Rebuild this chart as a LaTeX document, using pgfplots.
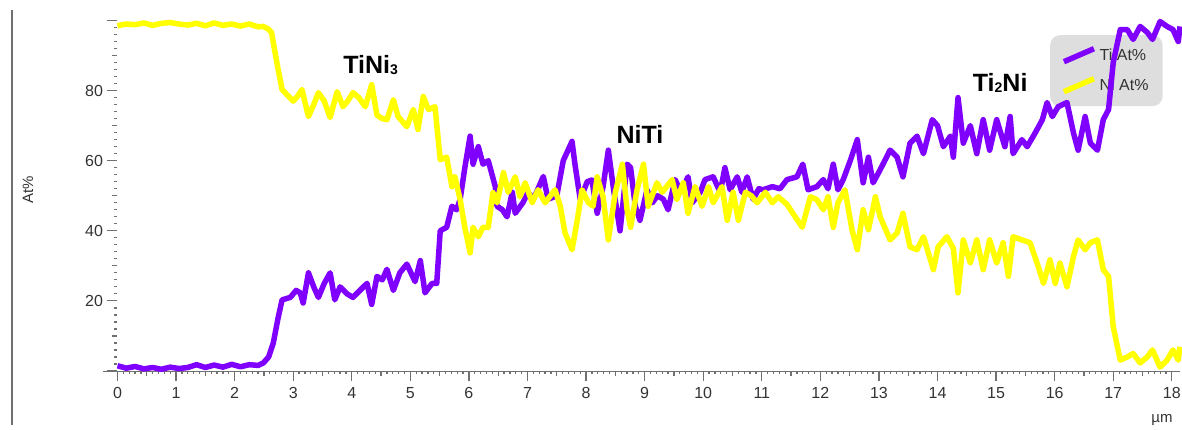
\documentclass[border=0pt]{standalone}
\usepackage{fontspec}
\setmainfont{Liberation Sans}
\usepackage{pgfplots}
\pgfplotsset{compat=1.18}
\definecolor{ticol}{HTML}{7F00FF}
\definecolor{nicol}{HTML}{FFFF00}
\definecolor{tickgray}{HTML}{707070}
\definecolor{txtgray}{HTML}{333333}
\definecolor{leggray}{HTML}{DEDEDE}
\pgfplotstableread{
x y
0 1.5
0.15 0.8
0.3 1.3
0.45 0.6
0.6 1.0
0.75 0.5
0.9 1.1
1.05 0.7
1.2 1.0
1.35 1.8
1.5 1.0
1.65 1.7
1.8 1.1
1.95 1.9
2.1 1.2
2.25 1.8
2.4 1.6
2.49 2.3
2.58 4
2.66 8
2.74 15
2.81 20.3
2.95 21
3.05 23
3.12 22.3
3.17 19.4
3.26 28
3.35 24
3.43 21
3.53 25
3.63 28
3.71 20.3
3.80 24
3.92 22
4.02 21
4.14 23
4.26 25
4.34 19
4.43 27
4.52 26
4.60 29
4.71 23
4.82 28
4.94 30.5
5.08 25.5
5.17 31.5
5.25 22.3
5.37 25
5.45 25
5.51 40
5.62 41
5.71 47
5.79 46
5.85 49
5.93 58
6.02 67
6.07 59
6.16 64
6.24 59
6.33 60
6.45 52.6
6.48 47
6.57 46
6.65 44
6.74 51
6.79 45
6.92 48
7.01 51
7.10 49
7.18 52
7.27 55.5
7.35 49
7.50 50
7.61 60
7.76 65.5
7.81 59
7.90 49
8.02 54
8.10 54.5
8.19 45
8.29 52.6
8.38 63
8.47 51.7
8.58 40
8.70 59
8.76 58
8.84 47
8.92 43
9.04 51.7
9.13 48
9.22 50
9.32 49
9.40 46
9.52 54.6
9.62 51
9.74 55.4
9.81 48
9.95 51
10.03 54.6
10.17 55.4
10.29 51
10.37 58
10.46 51.7
10.58 55.4
10.66 51
10.75 55.4
10.85 49
10.95 52
11.02 51.7
11.18 52.6
11.31 52
11.43 54.6
11.60 55.4
11.70 59
11.79 51.7
11.94 52.6
12.05 54.6
12.13 52
12.22 59
12.30 51.7
12.39 54.6
12.51 60
12.63 66
12.73 53.7
12.82 61
12.90 53.7
13.02 57.4
13.19 63
13.31 61
13.41 55.4
13.53 65
13.65 67
13.76 62
13.91 71.7
14.00 70
14.10 64
14.22 67
14.27 61
14.35 78
14.44 65
14.56 70
14.67 62
14.78 71.7
14.89 63
15.01 71.7
15.15 64
15.24 72.6
15.29 62
15.44 66
15.53 64
15.67 68
15.79 71.7
15.87 76.6
15.96 72.6
16.06 75.4
16.21 76.6
16.32 68
16.40 63
16.52 72.6
16.61 65
16.73 63
16.83 71.7
16.92 74.6
17.00 88
17.12 97.4
17.24 97.4
17.34 94.6
17.46 98.3
17.58 96.6
17.67 94.6
17.80 99.7
17.92 98.3
18.02 97.4
18.11 94
18.14 98.3
}\tidata
\pgfplotstableread{
x y
0 98.5
0.15 99
0.3 98.8
0.45 99.3
0.6 98.6
0.75 99.2
0.9 99.4
1.05 99
1.2 98.7
1.35 99.2
1.5 98.5
1.65 99.3
1.8 98.6
1.95 99
2.1 98.4
2.25 99
2.4 98.2
2.49 98.3
2.58 97.5
2.63 96.6
2.72 88
2.81 80.3
2.89 78.9
3.00 77
3.08 78.5
3.15 80.3
3.26 72.6
3.35 76
3.43 79.4
3.53 77
3.63 72.3
3.75 79.7
3.85 75.4
3.93 77
4.02 79.4
4.12 78
4.23 75.4
4.34 81.7
4.43 73
4.52 72
4.60 71.7
4.71 77.4
4.79 72.6
4.94 69.7
5.05 74.6
5.13 68.9
5.22 78.3
5.31 74.6
5.42 75.4
5.51 60.3
5.62 61
5.71 52.6
5.76 55.4
5.85 48.9
5.93 41
6.02 33.7
6.07 41
6.16 38.3
6.24 41
6.33 41
6.41 50.9
6.48 48
6.59 56.6
6.67 51
6.79 55.4
6.87 49.7
6.96 53.7
7.08 48
7.18 51.7
7.30 48
7.47 51.7
7.56 47
7.64 39.4
7.76 34.6
7.85 43
7.93 51.7
8.04 48
8.12 47
8.19 55.4
8.29 49.7
8.38 37.4
8.50 51
8.62 59
8.70 46
8.76 41
8.87 51.7
8.98 59
9.06 47
9.21 53.7
9.30 51
9.47 54.6
9.55 48.9
9.66 53.7
9.74 45
9.86 52.6
9.98 47
10.09 52.6
10.17 48
10.32 52.6
10.41 43
10.51 51
10.60 43
10.72 51
10.82 50
10.92 48
11.06 51
11.18 48
11.28 49.7
11.43 47.5
11.57 44
11.69 41
11.83 49.7
11.94 48.9
12.05 46
12.13 49.7
12.22 41
12.30 48
12.42 51.7
12.54 40.3
12.63 34.6
12.73 46
12.82 40.3
12.94 49.7
13.02 44
13.19 37.4
13.31 39.4
13.41 45
13.53 35.4
13.65 34.6
13.76 38.3
13.93 28.9
14.01 35.4
14.16 38.3
14.27 35
14.35 22.3
14.44 37.4
14.56 30.8
14.67 37.4
14.78 28.9
14.89 37.4
15.01 30.8
15.12 36.6
15.21 27
15.29 38.3
15.44 37.4
15.58 36.6
15.70 30.8
15.81 25
15.92 31.7
16.01 25
16.09 30.8
16.21 24
16.32 32.6
16.40 37.4
16.52 34.6
16.61 36.6
16.73 37.4
16.83 28.9
16.92 27
17.00 12.6
17.12 3.1
17.24 4
17.34 5
17.46 2.3
17.58 4
17.67 6
17.80 1.1
17.92 3.1
18.02 6
18.11 3.1
18.14 6.9
}\nidata
\begin{document}
\begin{tikzpicture}
% legend-only axis, drawn first so the data passes over it
\begin{axis}[
  hide axis,
  scale only axis, width=1062.5pt, height=350.5pt,
  xmin=0, xmax=18.14, ymin=0, ymax=100,
  legend style={at={(axis description cs:0.8776,0.9586)}, anchor=north west, fill=leggray, draw=none, rounded corners=10pt,
    font=\fontsize{16}{16}\selectfont, text=txtgray, inner xsep=11pt, inner ysep=10pt, row sep=9pt,
    nodes={inner sep=3pt, text height=12pt, text depth=3pt}},
  legend cell align=left,
  legend image code/.code={\draw[#1, line width=5.5pt] (0pt,-6pt) -- (30pt,7pt);},
]
\addlegendimage{color=ticol}
\addlegendentry{Ti At\%}
\addlegendimage{color=nicol}
\addlegendentry{Ni At\%}
\end{axis}
\begin{axis}[
  scale only axis, width=1062.5pt, height=350.5pt,
  xmin=0, xmax=18.14, ymin=0, ymax=100,
  clip=false,
  axis x line*=bottom, axis y line*=left,
  x axis line style={draw=tickgray, line width=0.8pt, shorten <=-14pt, -},
  y axis line style={draw=none, -},
  tick align=outside,
  xtick={0,...,18}, ytick={0,20,...,100}, yticklabels={,20,40,60,80,},
  minor x tick num=9, minor y tick num=9,
  major tick length=10pt, minor tick length=3pt,
  every tick/.style={draw=tickgray, line width=1.2pt},
  extra x ticks={0.5,1.5,...,17.5}, extra x tick labels={},
  extra y ticks={10,30,50,70,90}, extra y tick labels={},
  extra tick style={major tick length=5pt},
  /pgf/number format/assume math mode=true,
  tick label style={font=\fontsize{16}{16}\selectfont, text=txtgray},
  xticklabel style={yshift=-3pt},
  yticklabel style={xshift=-1pt},
  xlabel={µm},
  xlabel style={at={(axis description cs:0.983,-0.14)}, anchor=center, font=\fontsize{15}{15}\selectfont, text=txtgray},
  ylabel={At\%},
  ylabel style={at={(axis description cs:-0.0842,0.516)}, anchor=center, font=\fontsize{15}{15}\selectfont, text=txtgray},
  line join=round,
]
\addplot[color=ticol, line width=5.5pt] table[x=x,y=y] {\tidata};
\addplot[color=nicol, line width=5.5pt] table[x=x,y=y] {\nidata};
\node[font=\fontsize{25}{25}\selectfont\bfseries, text=black] at (axis cs:4.32,87.4) {TiNi\raisebox{-1pt}{\fontsize{14}{14}\selectfont 3}};
\node[font=\fontsize{25}{25}\selectfont\bfseries, text=black] at (axis cs:8.92,67.4) {NiTi};
\node[font=\fontsize{25}{25}\selectfont\bfseries, text=black] at (axis cs:15.07,82.3) {Ti\raisebox{-1pt}{\fontsize{14}{14}\selectfont 2}Ni};
\end{axis}
\draw[tickgray, line width=1.2pt] (-105.5pt,361pt) -- (-105.5pt,-54pt);
\pgfresetboundingbox
\path (-117.5pt,-59pt) rectangle (1064.5pt,371pt);
\end{tikzpicture}
\end{document}
